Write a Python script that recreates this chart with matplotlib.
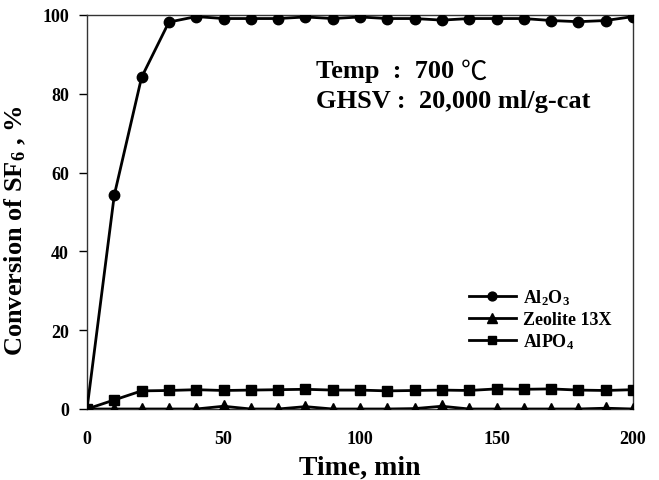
import matplotlib
matplotlib.use("Agg")
import matplotlib.pyplot as plt

time_min = [0, 10, 20, 30, 40, 50, 60, 70, 80, 90, 100, 110, 120, 130, 140, 150, 160, 170, 180, 190, 200]
al2o3 = [0, 54.3, 84.2, 98.2, 99.6, 99.1, 99.1, 99.1, 99.5, 99.1, 99.5, 99.1, 99.1, 98.7, 99.1, 99.1, 99.1, 98.6, 98.3, 98.6, 99.6]
zeolite = [0, 0, 0, 0, 0, 0.7, 0, 0, 0.6, 0, 0, 0, 0.1, 0.7, 0, 0, 0, 0, 0, 0.2, 0]
alpo4 = [0, 2.3, 4.6, 4.7, 4.9, 4.7, 4.8, 4.9, 5.0, 4.8, 4.8, 4.6, 4.7, 4.8, 4.7, 5.1, 5.0, 5.1, 4.8, 4.7, 4.9]

xticks = [0, 50, 100, 150, 200]
yticks = [0, 20, 40, 60, 80, 100]

plt.rcParams['font.family'] = ['Liberation Serif', 'DejaVu Serif']
plt.rcParams['mathtext.fontset'] = 'custom'
plt.rcParams['mathtext.rm'] = 'Liberation Serif'
plt.rcParams['mathtext.bf'] = 'Liberation Serif:bold'
plt.rcParams['mathtext.default'] = 'bf'

fig = plt.figure(figsize=(6.59, 4.81), dpi=100)
ax = fig.add_axes([87/659, 1-410/481, (633-87)/659, (410-16)/481])

ax.plot(time_min, al2o3, '-o', color='black', lw=2, ms=7.5, label='Al$_2$O$_3$', zorder=3)
ax.plot(time_min, zeolite, '-^', color='black', lw=2, ms=8, label='Zeolite 13X', zorder=3)
ax.plot(time_min, alpo4, '-s', color='black', lw=2, ms=7, label='AlPO$_4$', zorder=3)

ax.set_xlim(0, 200)
ax.set_ylim(0, 100)
ax.set_xticks(xticks)
ax.set_yticks(yticks)
ax.tick_params(axis='x', length=0, pad=15, labelsize=13)
ax.tick_params(axis='y', direction='out', length=6, width=1, labelsize=13, pad=7)
for lab in ax.get_xticklabels() + ax.get_yticklabels():
    lab.set_fontweight('bold')
for s in ax.spines.values():
    s.set_linewidth(1.0)
    s.set_color('#333333')

ax.set_xlabel('Time, min', fontsize=20, fontweight='bold', labelpad=6)
ax.set_ylabel('Conversion of SF$_6$ , %', fontsize=19, fontweight='bold')
ax.yaxis.set_label_coords(-0.108, 0.455)

fs = 19
t1 = ax.text(0.42, 0.858, 'Temp  :  700 ', transform=ax.transAxes, fontsize=fs, fontweight='bold', va='center', ha='left')
fig.canvas.draw()
bb = t1.get_window_extent()
x_end = ax.transAxes.inverted().transform((bb.x1, bb.y0))[0]
ax.text(x_end, 0.858, '\u2103', transform=ax.transAxes, fontsize=fs, va='center', ha='left',
        family=['Noto Sans CJK SC', 'DejaVu Sans'])
ax.text(0.42, 0.782, 'GHSV :  20,000 ml/g-cat', transform=ax.transAxes, fontsize=fs, fontweight='bold', va='center', ha='left')

leg = ax.legend(loc='lower right', bbox_to_anchor=(0.99, 0.105), frameon=False,
                prop={'family': 'Liberation Serif', 'weight': 'bold', 'size': 13},
                handlelength=2.6, handletextpad=0.4, labelspacing=0.2, markerscale=0.85)

fig.savefig('out.png', dpi=100)
